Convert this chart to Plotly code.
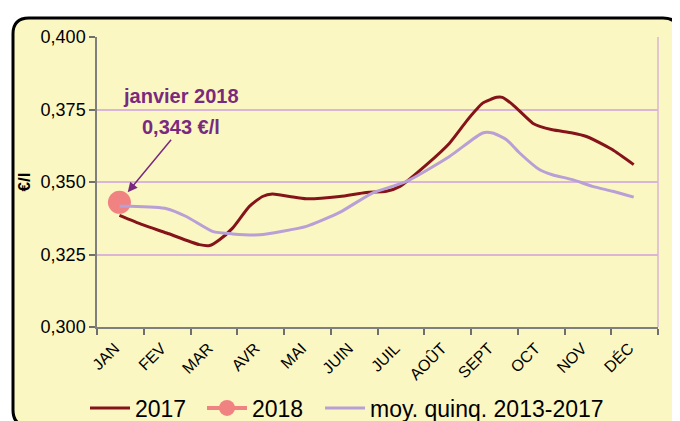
import plotly.graph_objects as go

months = ["JAN", "FEV", "MAR", "AVR", "MAI", "JUIN", "JUIL", "AOÛT", "SEPT", "OCT", "NOV", "DÉC"]

# x positions in month units (0 = start of JAN, 12 = end of DEC)
x_2017 = [0.48, 0.97, 1.49, 2.19, 2.41, 2.62, 2.90, 3.26, 3.54, 3.75, 4.12, 4.48, 5.19, 5.76,
          6.19, 6.48, 7.05, 7.54, 7.90, 8.11, 8.25, 8.55, 8.67, 8.89, 9.32, 9.47, 9.74, 10.17,
          10.47, 10.90, 11.03, 11.48]
y_2017 = [0.3385, 0.3353, 0.3324, 0.3284, 0.3281, 0.3301, 0.3341, 0.3416, 0.3450, 0.3459, 0.3450,
          0.3442, 0.3450, 0.3464, 0.3468, 0.3485, 0.3560, 0.3634, 0.3709, 0.3749, 0.3772, 0.3792,
          0.3792, 0.3767, 0.3703, 0.3692, 0.3680, 0.3669, 0.3657, 0.3623, 0.3611, 0.3560]

x_moy = [0.48, 0.70, 1.49, 1.91, 2.47, 2.90, 3.48, 3.97, 4.48, 5.19, 5.89, 6.62, 7.54,
         8.25, 8.46, 8.76, 9.04, 9.47, 9.74, 10.17, 10.60, 11.03, 11.48]
y_moy = [0.3416, 0.3416, 0.3408, 0.3381, 0.3330, 0.3321, 0.3318, 0.3330, 0.3347, 0.3395,
         0.3462, 0.3502, 0.3588, 0.3669, 0.3669, 0.3646, 0.3600, 0.3542, 0.3525, 0.3508, 0.3485,
         0.3468, 0.3448]

x_2018 = [0.48]
y_2018 = [0.343]

y_ticks = [0.300, 0.325, 0.350, 0.375, 0.400]

FONT = "Arial, Liberation Sans, sans-serif"
BG = "#FBF7C3"
GRID = "#D9B6D6"
PURPLE = "#7A2A7E"

fig = go.Figure()
fig.add_trace(go.Scatter(x=x_2017, y=y_2017, mode="lines", name="2017",
                         line=dict(color="#85141A", width=3, shape="spline", smoothing=0.6)))
fig.add_trace(go.Scatter(x=x_2018, y=y_2018, mode="lines+markers", name="2018",
                         line=dict(color="#F08282", width=4),
                         marker=dict(color="#F08282", size=23)))
fig.add_trace(go.Scatter(x=x_moy, y=y_moy, mode="lines", name="moy. quinq. 2013-2017",
                         legend="legend2",
                         line=dict(color="#B89FD6", width=3, shape="spline", smoothing=0.6)))

# page body has an 8px margin: figure placed at (8, 8) in the window
OFF = 8
W, H = 680 - OFF, 421 - OFF
L, R, T, B = 97 - OFF, 22, 37 - OFF, 94
pw, ph = W - L - R, H - T - B


def px(x):  # window pixel -> paper
    return (x - OFF - L) / pw


def py(y):
    return (H - B - (y - OFF)) / ph


# rounded frame
x0, y0, x1, y1, r = 13, 18, 679, 426, 16
path = (f"M {px(x0 + r)} {py(y0)} L {px(x1 - r)} {py(y0)} Q {px(x1)} {py(y0)} {px(x1)} {py(y0 + r)} "
        f"L {px(x1)} {py(y1 - r)} Q {px(x1)} {py(y1)} {px(x1 - r)} {py(y1)} "
        f"L {px(x0 + r)} {py(y1)} Q {px(x0)} {py(y1)} {px(x0)} {py(y1 - r)} "
        f"L {px(x0)} {py(y0 + r)} Q {px(x0)} {py(y0)} {px(x0 + r)} {py(y0)} Z")

legend_common = dict(orientation="h", yanchor="middle", y=py(408),
                     font=dict(size=23, family=FONT), bgcolor="rgba(0,0,0,0)",
                     itemwidth=40, tracegroupgap=0, itemsizing="trace", xanchor="left")

fig.update_layout(
    width=W, height=H,
    margin=dict(l=L, r=R, t=T, b=B, autoexpand=False),
    paper_bgcolor="white",
    plot_bgcolor=BG,
    separators=", ",
    font=dict(family=FONT, color="black"),
    showlegend=True,
    legend=dict(legend_common, x=px(85), entrywidth=62, entrywidthmode="pixels"),
    legend2=dict(legend_common, x=px(320)),
    shapes=[
        dict(type="path", path=path, xref="paper", yref="paper",
             fillcolor=BG, line=dict(color="black", width=3), layer="below"),
        dict(type="line", xref="paper", yref="paper", x0=1, x1=1, y0=0, y1=1,
             line=dict(color=GRID, width=1.5)),
    ],
    xaxis=dict(range=[0, 12], tickmode="array", tickvals=[i + 0.38 for i in range(12)],
               ticktext=months, tickangle=-45, ticks="", showgrid=False, zeroline=False,
               showline=True, linecolor="#7F7F7F", linewidth=1.5, automargin=False,
               tickfont=dict(size=16, family=FONT), ticklabelstandoff=4,
               minor=dict(tickmode="linear", tick0=0, dtick=1, ticks="outside", ticklen=6,
                          tickcolor="#6F6F6F", tickwidth=1.5, showgrid=False)),
    yaxis=dict(range=[0.300, 0.400], tickmode="array", tickvals=y_ticks, tickformat=".3f",
               ticks="outside", ticklen=6, tickcolor="#6F6F6F", tickwidth=1.5,
               showline=True, linecolor="#7F7F7F", linewidth=1.5, automargin=False,
               showgrid=True, gridcolor=GRID, gridwidth=1.5, zeroline=False,
               tickfont=dict(size=18, family=FONT),
               title=dict(text="<b>€/l</b>", font=dict(size=17, family=FONT), standoff=6)),
    annotations=[
        dict(x=0.48, y=0.343, xref="x", yref="y", text="<b>0,343 €/l</b>", showarrow=True,
             ax=62, ay=-75, arrowcolor=PURPLE, arrowwidth=1.5, arrowhead=2, arrowsize=1.3,
             standoff=13, font=dict(size=20, color=PURPLE, family=FONT)),
        dict(x=px(181), y=py(96), xref="paper", yref="paper", text="<b>janvier 2018</b>",
             xanchor="center", yanchor="middle",
             showarrow=False, font=dict(size=20, color=PURPLE, family=FONT)),
    ],
)

fig.write_html("out.html")
